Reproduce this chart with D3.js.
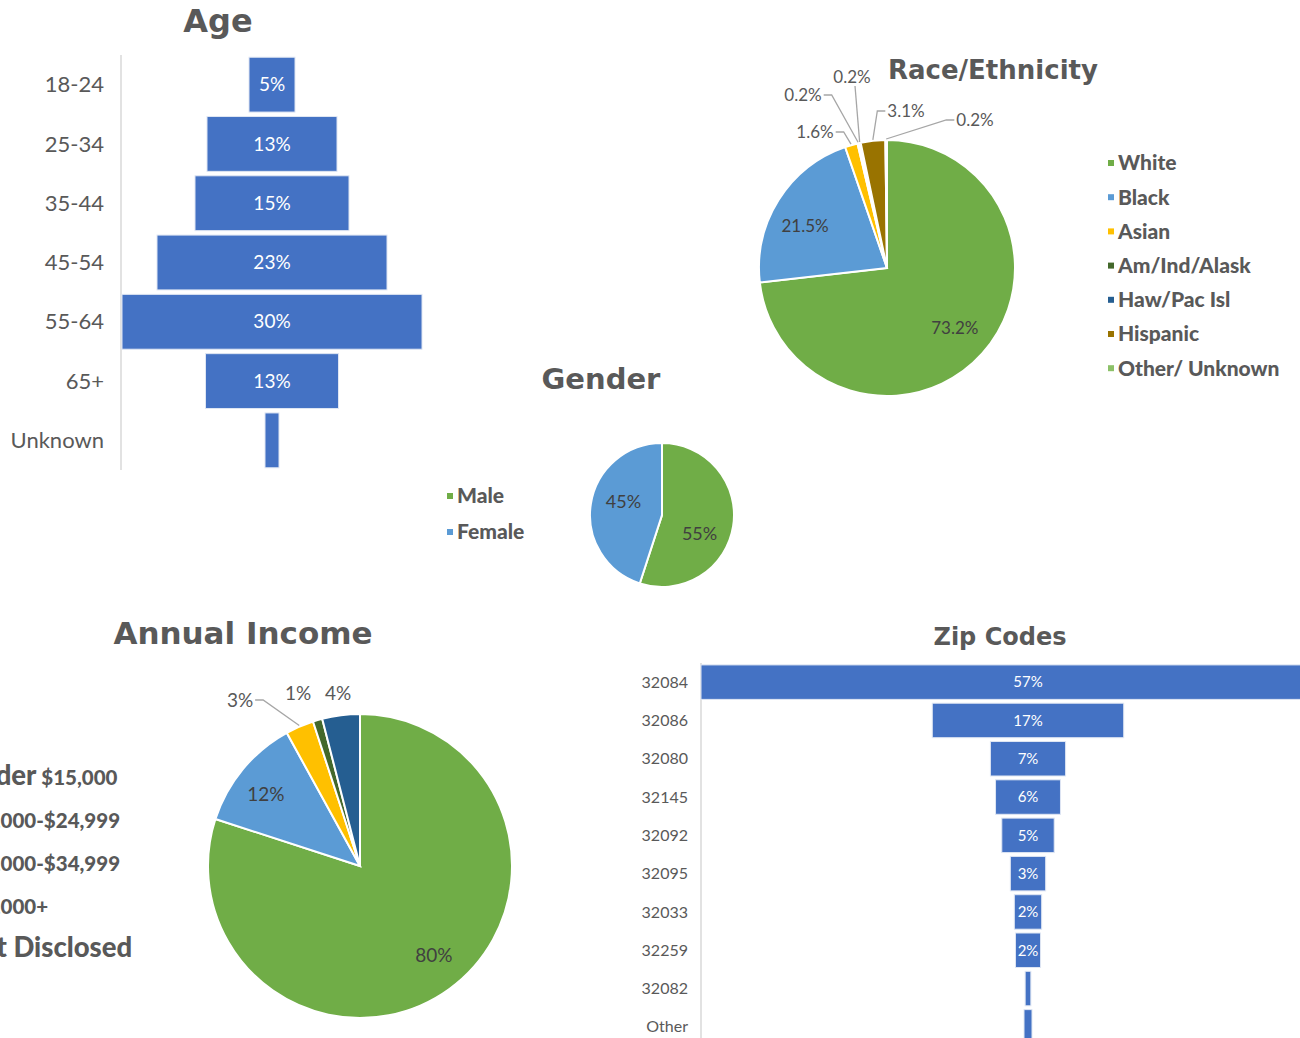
<!DOCTYPE html>
<html>
<head>
<meta charset="utf-8">
<script src="https://cdn.jsdelivr.net/npm/d3@7"></script>
<style>
body { margin: 0; background: #fff; }
svg { display: block; }
text { font-family: Lato, "Open Sans", sans-serif; }
</style>
</head>
<body>
<div class="wrapper"></div>
<script>
var width = 1300,
    height = 1038;

// ---- data
var ageCats = ["18-24", "25-34", "35-44", "45-54", "55-64", "65+", "Unknown"];
var ageValues = [0.046, 0.130, 0.154, 0.230, 0.300, 0.133, 0.014];

var raceCats = ["White", "Black", "Asian", "Am/Ind/Alask", "Haw/Pac Isl", "Hispanic", "Other/ Unknown"];
var raceValues = [0.732, 0.215, 0.016, 0.002, 0.002, 0.031, 0.002];

var genderCats = ["Male", "Female"];
var genderValues = [0.55, 0.45];

var incomeCats = ["Under $15,000", "$15,000-$24,999", "$25,000-$34,999", "$35,000+", "Not Disclosed"];
var incomeValues = [0.80, 0.12, 0.03, 0.01, 0.04];

var zipCats = ["32084", "32086", "32080", "32145", "32092", "32095", "32033", "32259", "32082", "Other"];
var zipValues = [0.574, 0.168, 0.066, 0.057, 0.046, 0.031, 0.024, 0.022, 0.005, 0.007];

var grey = "#595959",
    darkGrey = "#404040",
    barBlue = "#4472C4";

var raceColors = ["#70AD47", "#5B9BD5", "#FFC000", "#43682B", "#255E91", "#997300", "#8CC168"];
var genderColors = ["#70AD47", "#5B9BD5"];
var incomeColors = ["#70AD47", "#5B9BD5", "#FFC000", "#43682B", "#255E91"];

var svg = d3.select(".wrapper").append("svg")
    .attr("width", width)
    .attr("height", height);

function title(txt, x, y, size, anchor) {
  svg.append("text")
      .attr("x", x).attr("y", y)
      .attr("text-anchor", anchor || "middle")
      .style("font-family", "'DejaVu Sans', sans-serif")
      .style("font-size", size + "px")
      .style("font-weight", "bold")
      .style("fill", grey)
      .text(txt);
}

// centred horizontal bars (funnel look)
function funnel(o) {
  var g = svg.append("g");
  var y = d3.scaleBand().domain(o.cats).range([o.y0, o.y1])
      .paddingInner(o.pad).paddingOuter(o.pad / 2);
  var w = d3.scaleLinear().domain([0, o.max]).range([0, o.full]);

  g.append("line")
      .attr("x1", o.axisX).attr("x2", o.axisX)
      .attr("y1", o.y0).attr("y2", o.axisEnd)
      .style("stroke", "#d9d9d9").style("stroke-width", 1.5);

  g.selectAll("text.cat")
      .data(o.cats)
    .enter().append("text")
      .attr("class", "cat")
      .attr("x", o.axisX - o.catGap)
      .attr("y", function(d) { return y(d) + y.bandwidth() / 2; })
      .attr("dy", "0.35em")
      .attr("text-anchor", "end")
      .style("font-size", o.catSize + "px")
      .style("fill", grey)
      .text(function(d) { return d; });

  var bars = g.selectAll("g.bar")
      .data(o.values)
    .enter().append("g").attr("class", "bar");

  bars.append("rect")
      .attr("x", function(d) { return o.cx - w(d) / 2; })
      .attr("y", function(d, i) { return y(o.cats[i]); })
      .attr("width", function(d) { return w(d); })
      .attr("height", y.bandwidth())
      .style("fill", barBlue)
      .style("stroke", "#dfe6f3").style("stroke-width", 1);

  bars.filter(function(d) { return d >= 0.015; })
    .append("text")
      .attr("x", o.cx)
      .attr("y", function(d, i) { return y(o.cats[i]) + y.bandwidth() / 2; })
      .attr("dy", "0.35em")
      .attr("text-anchor", "middle")
      .style("font-size", o.valSize + "px")
      .style("fill", "#fff")
      .text(function(d) { return d3.format(".0%")(d); });
}

// pie starting at 12 o'clock, clockwise
function pieChart(o) {
  var g = svg.append("g").attr("transform", "translate(" + o.cx + "," + o.cy + ")");
  var pie = d3.pie().sort(null)(o.values);
  var arc = d3.arc().innerRadius(0).outerRadius(o.r);

  g.selectAll("path")
      .data(pie)
    .enter().append("path")
      .attr("d", arc)
      .style("fill", function(d, i) { return o.colors[i]; })
      .style("stroke", "#fff").style("stroke-width", 2);

  var inner = d3.arc().innerRadius(o.r * o.lab).outerRadius(o.r * o.lab);
  g.selectAll("text.in")
      .data(pie.filter(function(d, i) { return !o.outside[i]; }))
    .enter().append("text")
      .attr("class", "in")
      .attr("transform", function(d) {
        var c = inner.centroid(d);
        var n = (o.nudge && o.nudge[d.index]) || [0, 0];
        return "translate(" + (c[0] + n[0]) + "," + (c[1] + n[1]) + ")";
      })
      .attr("dy", "0.35em")
      .attr("text-anchor", "middle")
      .style("font-size", o.labSize + "px")
      .style("fill", darkGrey)
      .text(function(d) { return o.fmt(d.value); });

  pie.forEach(function(d, i) {
    var p = o.outside[i];
    if (!p) return;
    var t = g.append("text")
        .attr("x", p[0]).attr("y", p[1])
        .attr("dy", "0.35em")
        .attr("text-anchor", "middle")
        .style("font-size", o.outSize + "px")
        .style("fill", grey)
        .text(o.fmt(d.value));
    if (p[2] === false) return;
    var tw = t.node().getComputedTextLength();
    var a = (d.startAngle + d.endAngle) / 2,
        ex = Math.sin(a) * (o.r + 1),
        ey = -Math.cos(a) * (o.r + 1);
    var pts;
    if (Math.abs(p[0] - ex) < 15) {
      pts = [[p[0] + 3, p[1] + 9], [ex, ey]];
    } else if (p[0] < ex) {
      var sx = p[0] + tw / 2 + 2;
      pts = [[sx, p[1]], [sx + 8, p[1]], [ex, ey]];
    } else {
      var sx2 = p[0] - tw / 2 - 2;
      pts = [[sx2, p[1]], [sx2 - 8, p[1]], [ex, ey]];
    }
    g.append("path")
        .attr("d", d3.line()(pts))
        .style("fill", "none")
        .style("stroke", "#a6a6a6").style("stroke-width", 1.3);
  });
}

function legend(cats, colors, x, y, step) {
  var g = svg.append("g");
  var row = g.selectAll("g")
      .data(cats)
    .enter().append("g")
      .attr("transform", function(d, i) { return "translate(" + x + "," + (y + i * step) + ")"; });
  row.append("rect")
      .attr("x", -10).attr("y", -3)
      .attr("width", 6).attr("height", 6)
      .style("fill", function(d, i) { return colors[i]; });
  return row;
}

// ---- Age
title("Age", 218, 32, 32);
funnel({
  cats: ageCats, values: ageValues, cx: 272, y0: 55, y1: 470, axisEnd: 470,
  max: 0.30, full: 300, pad: 0.075, axisX: 121, catGap: 17, catSize: 22, valSize: 19
});

// ---- Race / Ethnicity
title("Race/Ethnicity", 888, 79, 26, "start");
pieChart({
  cx: 887, cy: 268, r: 128, values: raceValues, colors: raceColors,
  lab: 0.71, labSize: 17, outSize: 17, fmt: d3.format(".1%"),
  nudge: { 1: [-5, 7] },
  outside: { 2: [-72, -136], 3: [-84, -173], 4: [-35, -191], 5: [19, -157], 6: [88, -148] }
});
legend(raceCats, raceColors, 1118, 163, 34.2)
  .append("text")
    .attr("dy", "0.35em")
    .style("font-size", "21px").style("font-weight", "900")
    .style("fill", grey)
    .text(function(d) { return d; });

// ---- Gender
title("Gender", 601, 389, 29);
pieChart({
  cx: 662, cy: 515, r: 72, values: genderValues, colors: genderColors,
  lab: 0.57, labSize: 18, fmt: d3.format(".0%"),
  nudge: { 0: [-3, 12], 1: [2, -7] }, outside: {}
});
legend(genderCats, genderColors, 457, 496, 36)
  .append("text")
    .attr("dy", "0.35em")
    .style("font-size", "21px").style("font-weight", "900")
    .style("fill", grey)
    .text(function(d) { return d; });

// ---- Annual Income (legend runs off the left edge, as in the original)
title("Annual Income", 243, 644, 31);
pieChart({
  cx: 360, cy: 866, r: 152, values: incomeValues, colors: incomeColors,
  lab: 0.77, labSize: 19, outSize: 19, fmt: d3.format(".0%"),
  nudge: { 0: [5, -5], 1: [-4, 3] },
  outside: { 2: [-120, -166], 3: [-62, -173, false], 4: [-22, -173, false] }
});
legend(incomeCats, incomeColors, -40, 779, 43)
  .append("text")
    .attr("dy", "0.35em")
    .style("font-weight", "900")
    .style("fill", grey)
    .each(function(d) {
      var t = d3.select(this);
      d.split(" ").forEach(function(w, k) {
        t.append("tspan")
          .style("font-size", /\d/.test(w) ? "20.5px" : "27.5px")
          .text((k ? " " : "") + w);
      });
    });

// ---- Zip codes
title("Zip Codes", 1000, 645, 24);
funnel({
  cats: zipCats, values: zipValues, cx: 1028, y0: 663, y1: 1046, axisEnd: 1038,
  max: 0.574, full: 654, pad: 0.1, axisX: 701, catGap: 13, catSize: 16, valSize: 15
});
</script>
</body>
</html>
